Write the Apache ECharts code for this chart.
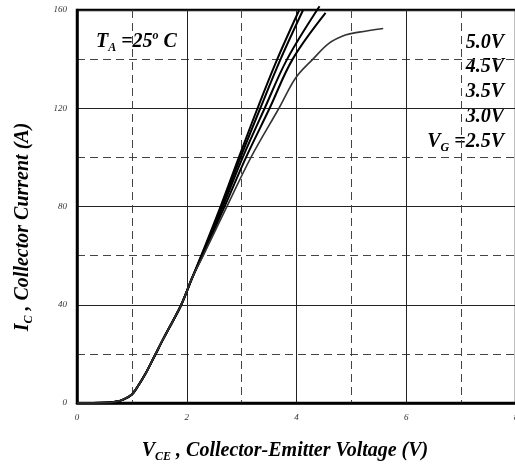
<!DOCTYPE html>
<html>
<head>
<meta charset="utf-8">
<script src="https://cdn.jsdelivr.net/npm/echarts@6/dist/echarts.min.js"></script>
<style>
  html, body { margin: 0; padding: 0; background: #fff; }
  #chart { width: 515px; height: 467px; }
</style>
</head>
<body>
<div id="chart"></div>
<script>
// shared turn-on part of all curves [Vce, Ic]
var base = [[0, 0], [0.5, 0.1], [0.7, 0.5], [0.85, 1.5], [1.0, 3.5], [1.1, 6.5], [1.25, 12],
  [1.4, 18.5], [1.57, 26], [1.75, 33.5], [1.9, 40], [2.1, 51]];
var vg50 = [[2.3, 62], [2.6, 79], [2.95, 100], [3.29, 120], [3.65, 140], [4.05, 160]];
var vg45 = [[2.3, 61.5], [2.62, 79], [2.98, 100], [3.34, 120], [3.71, 140], [4.12, 160]];
var vg35 = [[2.3, 61], [2.64, 79], [3.02, 100], [3.42, 120], [3.83, 140], [4.42, 161.5]];
var vg30 = [[2.3, 60.5], [2.66, 78.5], [3.08, 100], [3.51, 120], [3.93, 140], [4.53, 158.8]];
var vg25 = [[2.3, 60], [2.7, 78.5], [3.17, 100], [3.68, 120], [3.99, 132.5], [4.3, 140],
  [4.59, 146.4], [4.89, 149.8], [5.14, 151], [5.58, 152.5]];
var gateNames = ['5.0V', '4.5V', '3.5V', '3.0V', '2.5V'];

var serif = "'Liberation Serif', 'Times New Roman', serif";
var big = {fontFamily: serif, fontWeight: 'bold', fontStyle: 'italic', fontSize: 20, color: '#000', lineHeight: 24};
var sub = {fontFamily: serif, fontWeight: 'bold', fontStyle: 'italic', fontSize: 12, color: '#000', lineHeight: 13, verticalAlign: 'bottom'};
var sup = {fontFamily: serif, fontWeight: 'bold', fontStyle: 'italic', fontSize: 12, color: '#000', lineHeight: 13, verticalAlign: 'top'};

function mkSeries(name, pts, color, width) {
  return {
    name: name, type: 'line', data: base.concat(pts), showSymbol: false, smooth: 0.35,
    clip: false, lineStyle: {color: color, width: width}, animation: false
  };
}

function label(x, y, text, align) {
  return {type: 'text', x: x, y: y, style: {text: text, rich: {b: big, s: sub, p: sup}, align: align, verticalAlign: 'middle'}};
}

var chart = echarts.init(document.getElementById('chart'));
chart.setOption({
  animation: false,
  grid: {left: 77, top: 10, width: 439, height: 393, outerBoundsMode: 'none', containLabel: false,
    show: true, borderColor: '#000', borderWidth: 2.5},
  xAxis: {
    type: 'value', min: 0, max: 8, interval: 2,
    axisLine: {show: true, lineStyle: {color: '#000', width: 2.5}},
    axisTick: {show: false},
    axisLabel: {color: '#333', fontFamily: serif, fontStyle: 'italic', fontSize: 9, margin: 10},
    splitLine: {lineStyle: {color: '#222', width: 1}},
    minorTick: {show: false, splitNumber: 2},
    minorSplitLine: {show: true, lineStyle: {color: '#444', width: 1, type: [8, 5]}}
  },
  yAxis: {
    type: 'value', min: 0, max: 160, interval: 40,
    axisLine: {show: true, lineStyle: {color: '#000', width: 2.5}},
    axisTick: {show: false},
    axisLabel: {color: '#333', fontFamily: serif, fontStyle: 'italic', fontSize: 9, margin: 10},
    splitLine: {lineStyle: {color: '#222', width: 1}},
    minorTick: {show: false, splitNumber: 2},
    minorSplitLine: {show: true, lineStyle: {color: '#444', width: 1, type: [8, 5]}}
  },
  series: [
    mkSeries(gateNames[0], vg50, '#000', 2),
    mkSeries(gateNames[1], vg45, '#000', 2),
    mkSeries(gateNames[2], vg35, '#000', 2),
    mkSeries(gateNames[3], vg30, '#000', 2),
    mkSeries(gateNames[4], vg25, '#333', 1.6)
  ],
  graphic: [
    label(96, 42, '{b|T}{s|A}{b| =25}{p|o}{b| C}', 'left'),
    label(504, 42.5, '{b|' + gateNames[0] + '}', 'right'),
    label(504, 67, '{b|' + gateNames[1] + '}', 'right'),
    label(504, 91.5, '{b|' + gateNames[2] + '}', 'right'),
    label(504, 116.5, '{b|' + gateNames[3] + '}', 'right'),
    label(504, 142, '{b|V}{s|G}{b| =' + gateNames[4] + '}', 'right'),
    label(285, 451, '{b|V}{s|CE}{b| , Collector-Emitter Voltage (V)}', 'center'),
    {type: 'text', x: 23, y: 227, rotation: Math.PI / 2,
      style: {text: '{b|I}{s|C}{b| , Collector Current (A)}', rich: {b: big, s: sub}, align: 'center', verticalAlign: 'middle'}}
  ]
});
</script>
</body>
</html>
